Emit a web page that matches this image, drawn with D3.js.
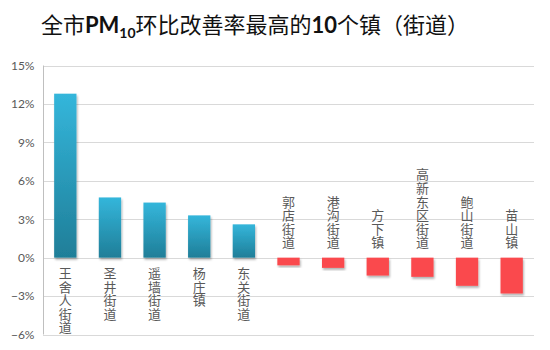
<!DOCTYPE html>
<html><head><meta charset="utf-8">
<script src="https://cdn.jsdelivr.net/npm/d3@7"></script>
<style>
html,body{margin:0;padding:0;background:#fff;}
</style>
</head><body>
<svg id="chart" width="550" height="350"></svg>
<script>
const categories = ["王舍人街道","圣井街道","遥墙街道","杨庄镇","东关街道","郭店街道","港沟街道","方下镇","高新东区街道","鲍山街道","苗山镇"];
const values = [0.128, 0.047, 0.043, 0.033, 0.026, -0.006, -0.008, -0.014, -0.015, -0.022, -0.028];
const yTicks = [-0.06, -0.03, 0, 0.03, 0.06, 0.09, 0.12, 0.15];

const svg = d3.select("#chart");
const pLeft = 43, pRight = 534, pTop = 65.5, pBottom = 334.5;

const x = d3.scaleBand().domain(categories).range([pLeft, pRight]).paddingInner(0.5).paddingOuter(0.25);
const y = d3.scaleLinear().domain([-0.06, 0.15]).range([pBottom, pTop]);

const defs = svg.append("defs");
const grad = defs.append("linearGradient").attr("id","blueGrad").attr("x1",0).attr("y1",0).attr("x2",0).attr("y2",1);
grad.append("stop").attr("offset","0%").attr("stop-color","#34B6DB");
grad.append("stop").attr("offset","100%").attr("stop-color","#1F7E98");
const f = defs.append("filter").attr("id","shadow").attr("x","-20%").attr("y","-20%").attr("width","150%").attr("height","150%");
f.append("feDropShadow").attr("dx",1).attr("dy",2).attr("stdDeviation",1.2).attr("flood-color","#000").attr("flood-opacity",0.3);

// title
const title = svg.append("text").attr("x", 255).attr("y", 33).attr("text-anchor","middle")
  .attr("font-family","'Noto Sans CJK SC', sans-serif").attr("font-size", 22).attr("fill","#111");
title.append("tspan").text("全市");
title.append("tspan").attr("font-family","Lato, 'Noto Sans', sans-serif").attr("font-weight","bold").text("PM");
title.append("tspan").attr("font-family","Lato, 'Noto Sans', sans-serif").attr("font-weight","bold").attr("font-size",14).attr("dy",5).text("10");
title.append("tspan").attr("dy",-5).text("环比改善率最高的");
title.append("tspan").attr("font-family","Lato, 'Noto Sans', sans-serif").attr("font-weight","bold").text("10");
title.append("tspan").text("个镇（街道）");

// gridlines
svg.append("g").selectAll("line").data(yTicks).join("line")
  .attr("x1", pLeft).attr("x2", pRight)
  .attr("y1", d => Math.round(y(d)) + 0.5).attr("y2", d => Math.round(y(d)) + 0.5)
  .attr("stroke", "#D9D9D9").attr("stroke-width", 1.2);

// y axis
const yAxis = svg.append("g").attr("transform", `translate(${pLeft + 0.5},0)`)
  .call(d3.axisLeft(y).tickValues(yTicks).tickFormat(d3.format(".0%")).tickSize(0).tickPadding(9));
yAxis.select(".domain").attr("stroke", "#BFBFBF").attr("d", `M0,${pTop}V${pBottom}`);
yAxis.selectAll("text").attr("font-family","Lato, 'Open Sans', sans-serif").attr("font-size", 12).attr("fill","#595959");

// bars
svg.append("g").selectAll("rect").data(categories).join("rect")
  .attr("x", d => x(d))
  .attr("width", x.bandwidth())
  .attr("y", (d,i) => Math.min(y(values[i]), y(0)))
  .attr("height", (d,i) => Math.abs(y(values[i]) - y(0)))
  .attr("fill", (d,i) => values[i] >= 0 ? "url(#blueGrad)" : "#FA4A4E")
  .attr("filter","url(#shadow)");

// labels (vertical)
svg.append("g").selectAll("text").data(categories).join("text")
  .attr("x", d => x(d) + x.bandwidth()/2)
  .attr("y", (d,i) => values[i] >= 0 ? y(0) + 9 : y(0) - 8)
  .attr("writing-mode", "vertical-rl")
  .attr("text-anchor", (d,i) => values[i] >= 0 ? "start" : "end")
  .attr("letter-spacing", 0.6)
  .attr("font-family","'Noto Sans CJK SC', sans-serif").attr("font-size", 13).attr("fill","#595959")
  .text(d => d);
</script>
</body></html>
